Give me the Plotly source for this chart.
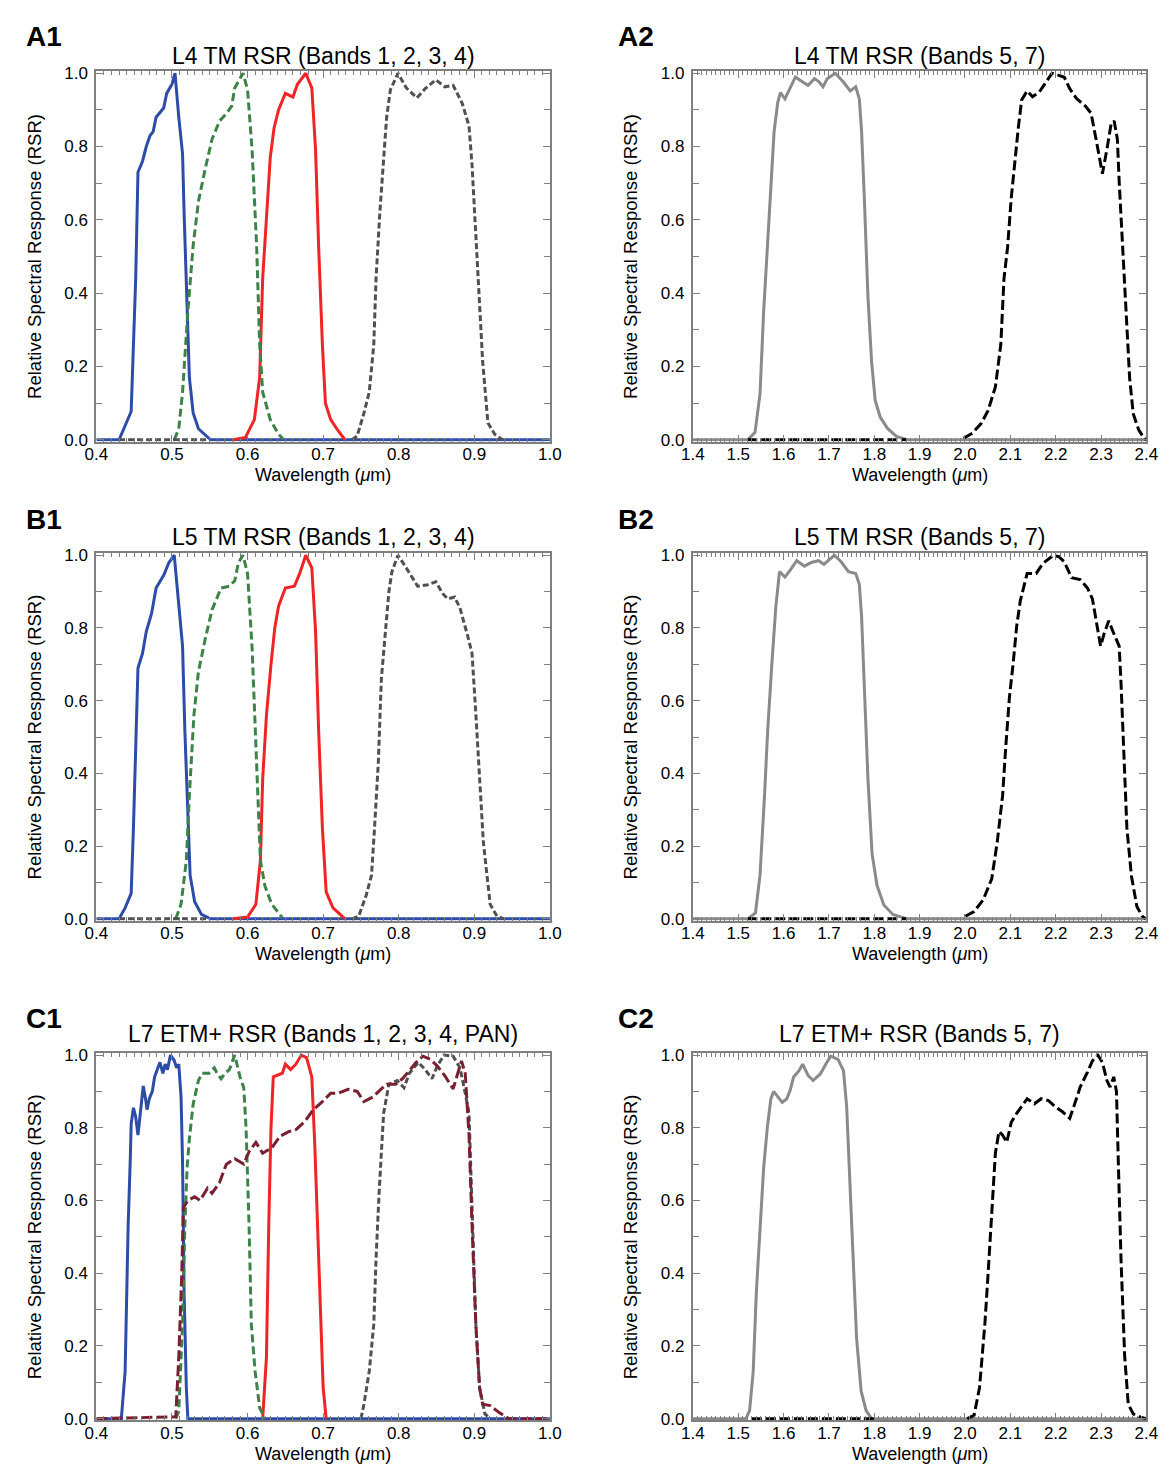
import plotly.graph_objects as go

# ---------------- A1: Landsat 4 TM, bands 1-4 ----------------
A1_B1_WL = [0.400, 0.430, 0.446, 0.449, 0.452, 0.455, 0.461, 0.466, 0.471, 0.475, 0.479, 0.489,
            0.493, 0.500, 0.504, 0.509, 0.514, 0.516, 0.520, 0.523, 0.528, 0.535, 0.551, 1.000]
A1_B1_RSR = [0, 0, 0.077, 0.26, 0.44, 0.73, 0.76, 0.80, 0.83, 0.84, 0.88, 0.905,
             0.945, 0.97, 1.0, 0.88, 0.78, 0.62, 0.35, 0.17, 0.073, 0.03, 0, 0]
A1_B2_WL = [0.503, 0.509, 0.514, 0.521, 0.528, 0.535, 0.544, 0.553, 0.563, 0.572, 0.579, 0.583,
            0.594, 0.600, 0.606, 0.612, 0.616, 0.620, 0.630, 0.641, 0.648]
A1_B2_RSR = [0, 0.03, 0.13, 0.35, 0.53, 0.65, 0.74, 0.82, 0.87, 0.89, 0.91, 0.96,
             1.0, 0.955, 0.79, 0.53, 0.26, 0.13, 0.055, 0.015, 0]
A1_B3_WL = [0.581, 0.597, 0.609, 0.616, 0.620, 0.625, 0.630, 0.635, 0.641, 0.650, 0.660, 0.666,
            0.677, 0.685, 0.690, 0.694, 0.699, 0.703, 0.710, 0.720, 0.729]
A1_B3_RSR = [0, 0.006, 0.055, 0.17, 0.44, 0.62, 0.77, 0.85, 0.90, 0.945, 0.935, 0.97,
             1.0, 0.96, 0.79, 0.53, 0.26, 0.10, 0.055, 0.024, 0]
A1_B4_WL = [0.43, 0.55, None,
            0.738, 0.745, 0.754, 0.761, 0.767, 0.770, 0.775, 0.780, 0.784, 0.789, 0.799, 0.810,
            0.824, 0.835, 0.849, 0.861, 0.872, 0.884, 0.893, 0.897, 0.902, 0.907, 0.911, 0.918,
            0.927, 0.937]
A1_B4_RSR = [0, 0, None,
             0, 0.01, 0.073, 0.13, 0.26, 0.44, 0.62, 0.77, 0.88, 0.955, 1.0, 0.96,
             0.933, 0.958, 0.982, 0.963, 0.967, 0.918, 0.856, 0.75, 0.57, 0.39, 0.215, 0.046,
             0.015, 0]

# ---------------- A2: Landsat 4 TM, bands 5, 7 ----------------
A2_B5_WL = [1.400, 1.521, 1.537, 1.548, 1.556, 1.564, 1.572, 1.579, 1.587, 1.593, 1.603, 1.615,
            1.626, 1.642, 1.654, 1.668, 1.677, 1.687, 1.696, 1.714, 1.732, 1.747, 1.759, 1.767,
            1.772, 1.778, 1.786, 1.794, 1.802, 1.813, 1.829, 1.849, 1.872, 2.400]
A2_B5_RSR = [0, 0, 0.02, 0.125, 0.35, 0.526, 0.704, 0.84, 0.92, 0.947, 0.93, 0.963,
             0.99, 0.976, 0.967, 0.985, 0.978, 0.963, 0.985, 1.0, 0.976, 0.952, 0.963, 0.93,
             0.84, 0.66, 0.39, 0.214, 0.107, 0.062, 0.031, 0.009, 0, 0]
A2_B7_WL = [1.52, 1.87, None, 1.997, 2.016, 2.036, 2.051, 2.067, 2.079, 2.086, 2.094, 2.102,
            2.110, 2.118, 2.125, 2.137, 2.149, 2.164, 2.176, 2.192, 2.203, 2.219, 2.231, 2.246,
            2.266, 2.278, 2.289, 2.303, 2.313, 2.322, 2.329, 2.336, 2.340, 2.348, 2.356, 2.363,
            2.371, 2.383, 2.395, 2.400]
A2_B7_RSR = [0, 0, None, 0.004, 0.018, 0.045, 0.08, 0.144, 0.26, 0.44, 0.526, 0.66,
             0.766, 0.856, 0.927, 0.952, 0.936, 0.949, 0.971, 1.0, 0.996, 0.989, 0.958, 0.931,
             0.91, 0.891, 0.82, 0.726, 0.793, 0.86, 0.87, 0.82, 0.704, 0.526, 0.348, 0.169,
             0.071, 0.027, 0.004, 0]

# ---------------- B1: Landsat 5 TM, bands 1-4 ----------------
B1_B1_WL = [0.400, 0.430, 0.438, 0.446, 0.449, 0.452, 0.455, 0.461, 0.466, 0.473, 0.479, 0.489,
            0.496, 0.503, 0.509, 0.514, 0.517, 0.521, 0.524, 0.530, 0.539, 0.551, 1.000]
B1_B1_RSR = [0, 0, 0.03, 0.07, 0.25, 0.475, 0.69, 0.73, 0.79, 0.84, 0.91, 0.945,
             0.98, 1.0, 0.875, 0.75, 0.52, 0.30, 0.12, 0.047, 0.012, 0, 0]
B1_B2_WL = [0.505, 0.512, 0.519, 0.523, 0.529, 0.535, 0.544, 0.553, 0.565, 0.576, 0.583, 0.588,
            0.594, 0.600, 0.606, 0.612, 0.617, 0.623, 0.632, 0.646]
B1_B2_RSR = [0, 0.04, 0.16, 0.34, 0.56, 0.68, 0.77, 0.85, 0.91, 0.915, 0.93, 0.98,
             1.0, 0.95, 0.745, 0.43, 0.16, 0.09, 0.04, 0.003]
B1_B3_WL = [0.581, 0.600, 0.611, 0.617, 0.620, 0.625, 0.631, 0.636, 0.641, 0.650, 0.662, 0.669,
            0.677, 0.685, 0.690, 0.694, 0.699, 0.704, 0.713, 0.729]
B1_B3_RSR = [0, 0.005, 0.04, 0.16, 0.385, 0.56, 0.70, 0.80, 0.86, 0.91, 0.915, 0.95,
             1.0, 0.965, 0.79, 0.52, 0.25, 0.074, 0.03, 0]
B1_B4_WL = [0.43, 0.55, None,
            0.738, 0.747, 0.757, 0.764, 0.768, 0.773, 0.777, 0.782, 0.787, 0.791, 0.799, 0.807,
            0.816, 0.825, 0.837, 0.849, 0.858, 0.865, 0.874, 0.881, 0.891, 0.897, 0.902, 0.907,
            0.912, 0.921, 0.930, 0.939]
B1_B4_RSR = [0, 0, None,
             0, 0.007, 0.065, 0.12, 0.25, 0.43, 0.66, 0.79, 0.90, 0.955, 1.0, 0.975,
             0.945, 0.915, 0.918, 0.927, 0.895, 0.88, 0.885, 0.855, 0.78, 0.73, 0.565, 0.385,
             0.21, 0.04, 0.007, 0]

# ---------------- B2: Landsat 5 TM, bands 5, 7 ----------------
B2_B5_WL = [1.400, 1.521, 1.538, 1.548, 1.558, 1.565, 1.574, 1.583, 1.591, 1.603, 1.615, 1.629,
            1.646, 1.661, 1.677, 1.689, 1.700, 1.712, 1.727, 1.743, 1.759, 1.767, 1.772, 1.778,
            1.786, 1.795, 1.806, 1.821, 1.841, 1.872, 2.400]
B2_B5_RSR = [0, 0, 0.016, 0.12, 0.34, 0.52, 0.70, 0.86, 0.955, 0.94, 0.96, 0.985,
             0.97, 0.98, 0.985, 0.975, 0.987, 1.0, 0.982, 0.955, 0.95, 0.92, 0.83, 0.655,
             0.385, 0.18, 0.092, 0.038, 0.012, 0, 0]
B2_B7_WL = [1.52, 1.87, None, 2.001, 2.020, 2.040, 2.059, 2.071, 2.083, 2.090, 2.098, 2.106,
            2.114, 2.122, 2.129, 2.137, 2.157, 2.172, 2.195, 2.207, 2.219, 2.235, 2.254, 2.270,
            2.281, 2.289, 2.299, 2.307, 2.317, 2.328, 2.340, 2.344, 2.349, 2.357, 2.367, 2.379,
            2.391, 2.398]
B2_B7_RSR = [0, 0, None, 0.007, 0.02, 0.052, 0.11, 0.21, 0.34, 0.475, 0.61, 0.70,
             0.805, 0.875, 0.91, 0.95, 0.95, 0.978, 1.0, 0.996, 0.982, 0.938, 0.933, 0.91,
             0.88, 0.82, 0.75, 0.785, 0.82, 0.785, 0.75, 0.65, 0.475, 0.25, 0.118, 0.034,
             0.007, 0]

# ---------------- C1: Landsat 7 ETM+, bands 1-4 and PAN ----------------
C1_B1_WL = [0.400, 0.433, 0.438, 0.442, 0.445, 0.446, 0.449, 0.452, 0.455, 0.459, 0.462, 0.465,
            0.467, 0.470, 0.474, 0.477, 0.480, 0.484, 0.488, 0.491, 0.494, 0.498, 0.503, 0.506,
            0.509, 0.512, 0.514, 0.516, 0.519, 0.521, 1.000]
C1_B1_RSR = [0, 0, 0.13, 0.53, 0.725, 0.81, 0.855, 0.83, 0.78, 0.855, 0.915, 0.88,
             0.85, 0.88, 0.90, 0.94, 0.96, 0.98, 0.95, 0.975, 0.96, 1.0, 0.985, 0.965,
             0.975, 0.885, 0.705, 0.35, 0.085, 0, 0]
C1_B2_WL = [0.505, 0.509, 0.514, 0.517, 0.520, 0.523, 0.528, 0.535, 0.540, 0.549, 0.556, 0.560,
            0.565, 0.570, 0.576, 0.583, 0.590, 0.595, 0.598, 0.602, 0.605, 0.610, 0.616, 0.623]
C1_B2_RSR = [0, 0.02, 0.26, 0.53, 0.69, 0.77, 0.865, 0.93, 0.95, 0.95, 0.965, 0.948,
             0.935, 0.95, 0.96, 1.0, 0.94, 0.91, 0.80, 0.53, 0.26, 0.13, 0.03, 0]
C1_B3_WL = [0.620, 0.625, 0.628, 0.631, 0.634, 0.640, 0.646, 0.650, 0.657, 0.664, 0.671, 0.678,
            0.685, 0.689, 0.693, 0.697, 0.700, 0.704]
C1_B3_RSR = [0, 0.17, 0.53, 0.80, 0.94, 0.945, 0.95, 0.975, 0.96, 0.975, 1.0, 0.993,
             0.94, 0.75, 0.485, 0.26, 0.085, 0]
C1_B4_WL = [0.750, 0.754, 0.761, 0.767, 0.770, 0.774, 0.780, 0.787, 0.798, 0.807, 0.814, 0.826,
            0.835, 0.844, 0.851, 0.860, 0.872, 0.881, 0.888, 0.893, 0.895, 0.899, 0.902, 0.907,
            0.914, 0.921]
C1_B4_RSR = [0, 0.04, 0.13, 0.26, 0.44, 0.62, 0.84, 0.92, 0.93, 0.91, 0.95, 0.98,
             0.96, 0.935, 0.97, 1.0, 0.997, 0.965, 0.895, 0.84, 0.71, 0.44, 0.26, 0.085,
             0.013, 0]
C1_PAN_WL = [0.400, 0.505, 0.509, 0.513, 0.515, 0.521, 0.530, 0.537, 0.547, 0.553, 0.563, 0.572,
             0.583, 0.595, 0.602, 0.611, 0.620, 0.632, 0.643, 0.655, 0.664, 0.676, 0.687, 0.699,
             0.710, 0.720, 0.733, 0.745, 0.754, 0.766, 0.777, 0.784, 0.796, 0.805, 0.814, 0.823,
             0.832, 0.842, 0.851, 0.862, 0.872, 0.879, 0.883, 0.888, 0.893, 0.897, 0.902, 0.907,
             0.911, 0.921, 0.932, 0.946, 1.000]
C1_PAN_RSR = [0, 0.005, 0.17, 0.40, 0.58, 0.60, 0.61, 0.60, 0.634, 0.62, 0.65, 0.70,
              0.715, 0.70, 0.735, 0.76, 0.73, 0.745, 0.777, 0.79, 0.795, 0.818, 0.85, 0.872,
              0.895, 0.895, 0.906, 0.90, 0.872, 0.885, 0.907, 0.92, 0.92, 0.935, 0.957, 0.98,
              0.997, 0.988, 0.97, 0.94, 0.907, 0.957, 0.984, 0.95, 0.78, 0.53, 0.26, 0.085,
              0.04, 0.036, 0.018, 0, 0]

# ---------------- C2: Landsat 7 ETM+, bands 5, 7 ----------------
C2_B5_WL = [1.400, 1.517, 1.525, 1.533, 1.540, 1.548, 1.556, 1.564, 1.572, 1.578, 1.587, 1.597,
            1.607, 1.615, 1.622, 1.634, 1.642, 1.654, 1.665, 1.681, 1.693, 1.704, 1.720, 1.732,
            1.739, 1.746, 1.753, 1.761, 1.771, 1.782, 1.794, 2.400]
C2_B5_RSR = [0, 0, 0.022, 0.13, 0.35, 0.53, 0.69, 0.80, 0.88, 0.90, 0.887, 0.87,
             0.88, 0.905, 0.94, 0.957, 0.975, 0.944, 0.93, 0.948, 0.975, 0.997, 0.988, 0.957,
             0.86, 0.66, 0.44, 0.22, 0.076, 0.022, 0, 0]
C2_B7_WL = [1.53, 1.80, None, 2.005, 2.020, 2.032, 2.044, 2.051, 2.059, 2.067, 2.075, 2.083,
            2.092, 2.102, 2.114, 2.125, 2.137, 2.153, 2.168, 2.184, 2.200, 2.215, 2.231, 2.242,
            2.254, 2.270, 2.281, 2.293, 2.303, 2.313, 2.320, 2.328, 2.334, 2.338, 2.344, 2.352,
            2.360, 2.371, 2.387, 2.400]
C2_B7_RSR = [0, 0, None, 0, 0.009, 0.085, 0.263, 0.40, 0.575, 0.73, 0.79, 0.78,
             0.76, 0.815, 0.84, 0.86, 0.88, 0.866, 0.88, 0.875, 0.857, 0.844, 0.826, 0.866,
             0.912, 0.953, 0.984, 1.0, 0.98, 0.93, 0.912, 0.94, 0.90, 0.71, 0.44, 0.174,
             0.04, 0.013, 0.004, 0]

TITLES = ["L4 TM RSR (Bands 1, 2, 3, 4)", "L4 TM RSR (Bands 5, 7)",
          "L5 TM RSR (Bands 1, 2, 3, 4)", "L5 TM RSR (Bands 5, 7)",
          "L7 ETM+ RSR (Bands 1, 2, 3, 4, PAN)", "L7 ETM+ RSR (Bands 5, 7)"]
LABELS = ["A1", "A2", "B1", "B2", "C1", "C2"]
XTITLE = "Wavelength (<i>\u03bc</i>m)"
YTITLE = "Relative Spectral Response (RSR)"

BLUE = "#2c4ca8"
GREEN = "#3d8249"
RED = "#f02424"
DGRAY = "#505050"
LGRAY = "#8a8a8a"
BLACK = "#000000"
MAROON = "#7a1f30"
FRAME = "#7f7f7f"

FONT = "Liberation Sans, Arial, Helvetica, sans-serif"
W, H = 1169, 1466

# plot frames in pixels: columns (left, right), rows (top, bottom)
COL_X = [(78, 541), (687, 1150)]
ROW_Y = [(57, 431), (544, 915), (1049, 1420)]
TITLE_Y = [41, 527, 1030]
LABEL_Y = [22, 510, 1014]
LABEL_X = [4, 608]


def fx(p):
    return p / W


def fy(p):
    return 1 - p / H


panels = [
    (0, 0, [0.4, 1.0], [(A1_B1_WL, A1_B1_RSR, BLUE, "solid"),
                        (A1_B3_WL, A1_B3_RSR, RED, "solid"),
                        (A1_B2_WL, A1_B2_RSR, GREEN, "8px,4px"),
                        (A1_B4_WL, A1_B4_RSR, DGRAY, "6px,3px")]),
    (0, 1, [1.4, 2.4], [(A2_B5_WL, A2_B5_RSR, LGRAY, "solid"),
                        (A2_B7_WL, A2_B7_RSR, BLACK, "10px,4px")]),
    (1, 0, [0.4, 1.0], [(B1_B1_WL, B1_B1_RSR, BLUE, "solid"),
                        (B1_B3_WL, B1_B3_RSR, RED, "solid"),
                        (B1_B2_WL, B1_B2_RSR, GREEN, "8px,4px"),
                        (B1_B4_WL, B1_B4_RSR, DGRAY, "6px,3px")]),
    (1, 1, [1.4, 2.4], [(B2_B5_WL, B2_B5_RSR, LGRAY, "solid"),
                        (B2_B7_WL, B2_B7_RSR, BLACK, "10px,4px")]),
    (2, 0, [0.4, 1.0], [(C1_B4_WL, C1_B4_RSR, DGRAY, "6px,3px"),
                        (C1_B1_WL, C1_B1_RSR, BLUE, "solid"),
                        (C1_B3_WL, C1_B3_RSR, RED, "solid"),
                        (C1_B2_WL, C1_B2_RSR, GREEN, "8px,4px"),
                        (C1_PAN_WL, C1_PAN_RSR, MAROON, "11px,4px")]),
    (2, 1, [1.4, 2.4], [(C2_B5_WL, C2_B5_RSR, LGRAY, "solid"),
                        (C2_B7_WL, C2_B7_RSR, BLACK, "10px,4px")]),
]

fig = go.Figure()
annotations = []
axis_common = dict(showline=True, linecolor=FRAME, linewidth=2, mirror="ticks",
                   ticks="inside", tickcolor=FRAME, tickwidth=1, showgrid=False,
                   zeroline=False, tickformat=".1f",
                   tickfont=dict(size=17, color="black"))

for k, (row, col, xrange_, curves) in enumerate(panels, start=1):
    suffix = "" if k == 1 else str(k)
    for wl, rsr, color, dash in curves:
        fig.add_trace(go.Scatter(x=wl, y=rsr, mode="lines", xaxis="x" + suffix, yaxis="y" + suffix,
                                 line=dict(color=color, width=3, dash=dash),
                                 hoverinfo="skip", showlegend=False))
    x0, x1 = COL_X[col]
    y0, y1 = ROW_Y[row]
    fig.update_layout(**{
        "xaxis" + suffix: dict(domain=[fx(x0), fx(x1)], anchor="y" + suffix, range=xrange_,
                               dtick=0.1, tick0=0, ticklen=7, ticklabelstandoff=-4,
                               minor=dict(ticks="inside", dtick=0.01, ticklen=4, tickcolor=FRAME),
                               **axis_common),
        "yaxis" + suffix: dict(domain=[fy(y1), fy(y0)], anchor="x" + suffix,
                               range=[-0.005, 1.005], dtick=0.2, tick0=0, ticklen=7,
                               ticklabelstandoff=3,
                               minor=dict(ticks="inside", dtick=0.1, ticklen=6, tickcolor=FRAME),
                               title=dict(text=YTITLE, font=dict(size=18.5), standoff=18),
                               **axis_common),
    })
    # wavelength label sits tight under the tick labels, as in the original figure
    annotations.append(dict(text=XTITLE, x=fx((x0 + x1) / 2), y=fy(y1 + 34),
                            xref="paper", yref="paper", xanchor="center", yanchor="middle",
                            showarrow=False, font=dict(size=18, color="black")))
    annotations.append(dict(text=TITLES[k - 1], x=fx((x0 + x1) / 2), y=fy(TITLE_Y[row]),
                            xref="paper", yref="paper", xanchor="center", yanchor="middle",
                            showarrow=False, font=dict(size=23, color="black")))
    annotations.append(dict(text="<b>" + LABELS[k - 1] + "</b>", x=fx(LABEL_X[col]),
                            y=fy(LABEL_Y[row]), xref="paper", yref="paper",
                            xanchor="left", yanchor="middle", showarrow=False,
                            font=dict(size=28, color="black")))

fig.update_layout(width=W, height=H, margin=dict(l=0, r=0, t=0, b=0),
                  paper_bgcolor="white", plot_bgcolor="white",
                  font=dict(family=FONT, color="black"),
                  annotations=annotations, showlegend=False)

fig.write_html("out.html")
